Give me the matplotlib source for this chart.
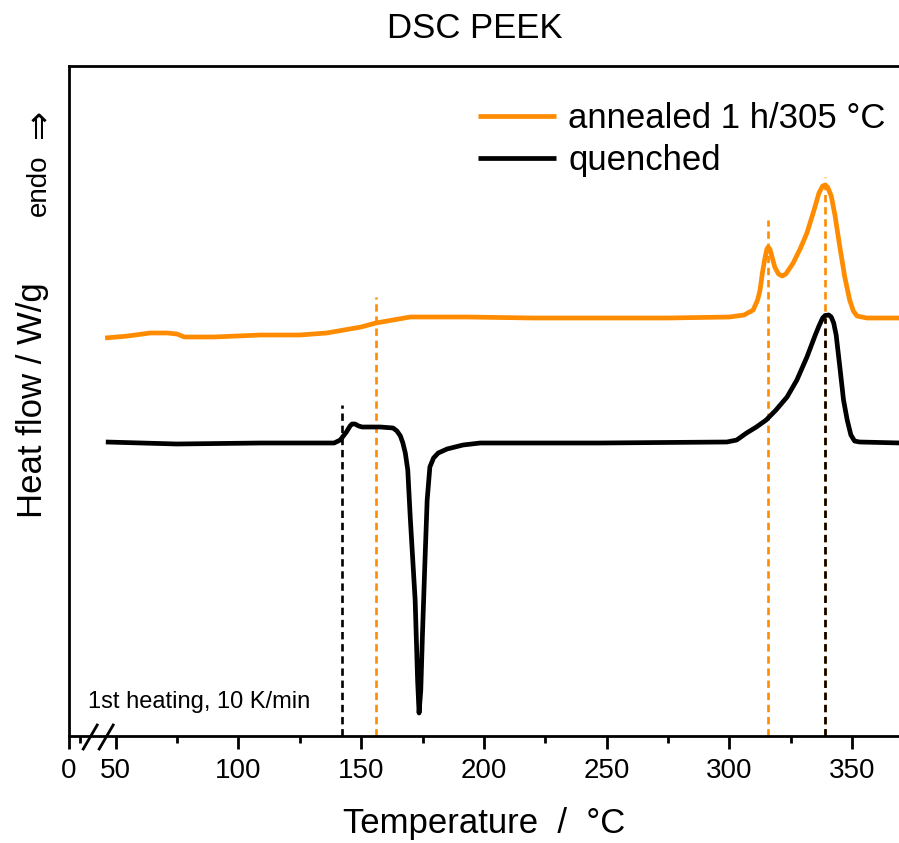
#!/usr/bin/env python3

import numpy as np
import matplotlib
matplotlib.use("Agg")
import matplotlib.pyplot as plt
import matplotlib.transforms as mtransforms

plt.rcParams['font.family'] = ['Liberation Sans', 'DejaVu Sans']

ORANGE = '#ff8c00'

# annealed 1 h / 305 C (temperature in C, heat flow in arbitrary units)
annealed_T = [45.7, 55, 64, 71, 75, 78, 90, 109, 125, 136, 143, 150, 156, 163, 170,
              180, 193, 220, 247, 275, 300, 306, 309.7, 311.5, 312.5, 313.5, 314.5,
              315.3, 315.8, 316.5, 317.5, 318.5, 320, 321.5, 323, 326, 329, 331.6,
              334.5, 336.5, 338, 339, 340, 341.5, 343, 345, 347, 349, 350.5, 352,
              356, 370]
annealed_hf = [3.98, 4.00, 4.03, 4.03, 4.02, 3.99, 3.99, 4.01, 4.01, 4.03, 4.06, 4.09,
               4.13, 4.16, 4.19, 4.19, 4.19, 4.18, 4.18, 4.18, 4.19, 4.21, 4.26, 4.36,
               4.46, 4.64, 4.78, 4.87, 4.89, 4.87, 4.78, 4.69, 4.62, 4.60, 4.62, 4.73,
               4.88, 5.03, 5.26, 5.43, 5.50, 5.51, 5.49, 5.40, 5.21, 4.89, 4.59, 4.36,
               4.25, 4.20, 4.18, 4.18]

# quenched
quenched_T = [46, 75, 109, 136, 139, 141.5, 144, 145.5, 146.3, 147.5, 149, 150.4, 157.8,
              163, 164.6, 166, 167, 168, 169, 170, 172, 173, 173.6, 174.3, 175, 176,
              176.9, 178, 179.5, 181.4, 185, 191.5, 198.5, 247, 299, 303, 307, 311,
              315, 319, 323.5, 327.5, 331.6, 335, 336.5, 338, 339, 340.5, 341.5, 342.5,
              343.5, 345, 346.5, 348, 349.5, 351, 353, 370]
quenched_hf = [2.94, 2.92, 2.93, 2.93, 2.93, 2.96, 3.04, 3.10, 3.12, 3.12, 3.10, 3.09,
               3.09, 3.08, 3.05, 3.00, 2.93, 2.83, 2.66, 2.19, 1.36, 0.56, 0.23, 0.46,
               1.03, 1.75, 2.36, 2.69, 2.78, 2.83, 2.87, 2.91, 2.93, 2.93, 2.94, 2.96,
               3.03, 3.09, 3.16, 3.26, 3.39, 3.56, 3.79, 4.01, 4.10, 4.18, 4.205, 4.21,
               4.19, 4.13, 4.01, 3.69, 3.36, 3.16, 3.01, 2.95, 2.94, 2.93]

# marker lines: (temperature, top of line)
annealed_marks = [(156, 4.39), (315.8, 5.16), (339, 5.59)]
quenched_marks = [(142.3, 3.31), (339, 4.18)]

# axis break: "0" sits left of the break, the rest is linear
x_zero = 31
x_max = 369.1
major_ticks = [x_zero, 50, 100, 150, 200, 250, 300, 350]
major_labels = ['0', '50', '100', '150', '200', '250', '300', '350']
minor_ticks = [35.5, 75, 125, 175, 225, 275, 325]

fig = plt.figure(figsize=(8.99, 8.43), dpi=100)
ax = fig.add_axes([69 / 899, 1 - 736 / 843, 1 - 69 / 899, (736 - 66) / 843])

ax.plot(annealed_T, annealed_hf, color=ORANGE, lw=3.4, solid_joinstyle='round',
        solid_capstyle='butt', label='annealed 1 h/305 °C', zorder=3)
ax.plot(quenched_T, quenched_hf, color='black', lw=3.4, solid_joinstyle='round',
        solid_capstyle='butt', label='quenched', zorder=3)

for t, top in annealed_marks:
    ax.plot([t, t], [0, top], color=ORANGE, lw=1.9, ls=(0, (2.8, 1.8)), zorder=2)
for t, top in quenched_marks:
    ax.plot([t, t], [0, top], color='black', lw=1.9, ls=(0, (2.8, 1.8)), zorder=2.5)

ax.set_xlim(x_zero, x_max)
ax.set_ylim(0, 6.70)
ax.set_xticks(major_ticks)
ax.set_xticklabels(major_labels)
ax.set_xticks(minor_ticks, minor=True)
ax.set_yticks([])
ax.tick_params(axis='x', which='major', direction='out', length=9.5, width=2,
               labelsize=20, pad=6)
ax.tick_params(axis='x', which='minor', direction='out', length=5, width=2)
for s in ax.spines.values():
    s.set_linewidth(2)
ax.spines['right'].set_visible(False)

# break marks "//"
trans = mtransforms.blended_transform_factory(ax.transData, ax.transAxes)
for x0, x1 in [(36.8, 42.5), (43.3, 49.0)]:
    ax.plot([x0, x1], [-0.0194, 0.0164], color='black', lw=2, transform=trans,
            clip_on=False)

ax.set_xlabel('Temperature  /  °C', fontsize=25, labelpad=17)
fig.text(33 / 899, 1 - 400 / 843, 'Heat flow / W/g', fontsize=25,
         rotation=90, ha='center', va='center')
fig.text(39 / 899, 1 - 185 / 843, 'endo', fontsize=20, rotation=90,
         ha='center', va='center')
fig.text(39 / 899, 1 - 124 / 843, '⇒', fontsize=25, rotation=90,
         ha='center', va='center', family='DejaVu Sans')
fig.text(475 / 899, 1 - 28 / 843, 'DSC PEEK', fontsize=25, ha='center', va='center')
ax.text(88 / 899, 1 - 708 / 843, '1st heating, 10 K/min', fontsize=17,
        transform=fig.transFigure, ha='left', va='baseline')

ax.legend(loc='upper left', bbox_to_anchor=(478 / 899, 1 - 102 / 843),
          bbox_transform=fig.transFigure, frameon=False, fontsize=25,
          handlelength=2.25, handletextpad=0.35, labelspacing=0.27,
          borderpad=0, borderaxespad=0)

fig.savefig('out.png', dpi=100)
